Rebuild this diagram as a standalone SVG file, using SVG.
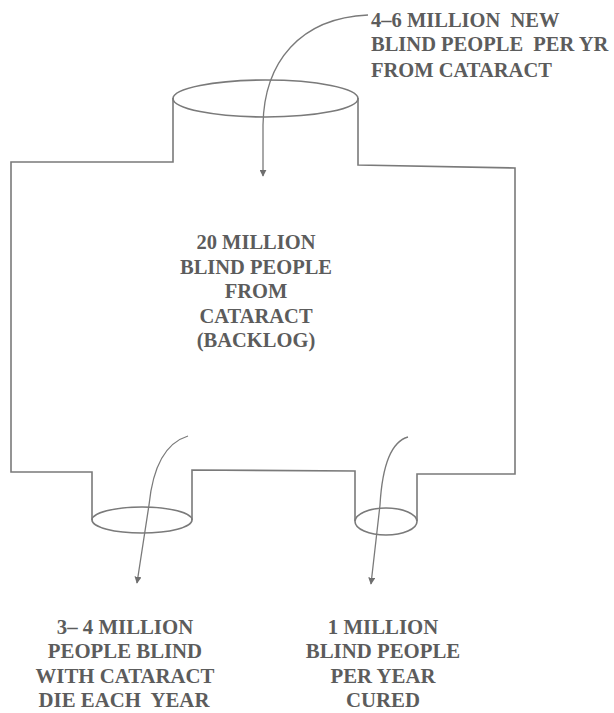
<svg xmlns="http://www.w3.org/2000/svg" width="614" height="713" viewBox="0 0 614 713">
<defs>
<marker id="ah" viewBox="0 0 10 10" refX="9" refY="5" markerWidth="7" markerHeight="7" markerUnits="userSpaceOnUse" orient="auto">
<path d="M0,0 L10,5 L0,10 Z" fill="#6e6e6e"/>
</marker>
</defs>
<style>
.ln{fill:none;stroke:#7a7a7a;stroke-width:1.6;stroke-linejoin:miter}
.cn{fill:none;stroke:#7a7a7a;stroke-width:1.3}
.t{font-family:"Liberation Serif","Times New Roman",serif;font-weight:bold;font-size:20.5px;fill:#5c5c5c;white-space:pre}
.b{font-size:20.8px}
.c{text-anchor:middle}
</style>
<rect width="614" height="713" fill="#ffffff"/>
<g id="tank">
<path class="ln" d="M173 98 L173 162 L11 162 L11 472 L92 472 L92 520 M192 520 L192 470 L355 471 L355 521 M417 521 L417 474 L515 474 L515 168 L358 165 L358 98"/>
<ellipse class="ln" cx="265.5" cy="98.5" rx="92.5" ry="18.5"/>
<ellipse class="ln" cx="142" cy="520" rx="50" ry="13"/>
<ellipse class="ln" cx="386" cy="521.5" rx="31" ry="13.5"/>
</g>
<g id="backlog">
<text class="t c" x="256" y="249">20 MILLION</text>
<text class="t c" x="256" y="274">BLIND PEOPLE</text>
<text class="t c" x="256" y="298">FROM</text>
<text class="t c" x="256" y="323">CATARACT</text>
<text class="t c" x="256" y="347">(BACKLOG)</text>
</g>
<g id="new-blind">
<text class="t" x="371" y="27">4–6 MILLION  NEW</text>
<text class="t" x="371" y="51">BLIND PEOPLE  PER YR</text>
<text class="t" x="371" y="77">FROM CATARACT</text>
</g>
<g id="die">
<text class="t b c" x="125" y="634">3– 4 MILLION</text>
<text class="t b c" x="125" y="658">PEOPLE BLIND</text>
<text class="t b c" x="125" y="683">WITH CATARACT</text>
<text class="t b c" x="124" y="707">DIE EACH  YEAR</text>
</g>
<g id="cured">
<text class="t b c" x="383" y="634">1 MILLION</text>
<text class="t b c" x="383" y="658">BLIND PEOPLE</text>
<text class="t b c" x="383" y="683">PER YEAR</text>
<text class="t b c" x="383" y="707">CURED</text>
</g>
<g id="connectors">
<path class="cn" d="M368 15 C300 18 264 62 263 125 L263 176" marker-end="url(#ah)"/>
<path class="cn" d="M188 436 C162 444 152 475 149 505 L137 583" marker-end="url(#ah)"/>
<path class="cn" d="M408 437 C390 442 382 470 380 505 L371 584" marker-end="url(#ah)"/>
</g>
</svg>
